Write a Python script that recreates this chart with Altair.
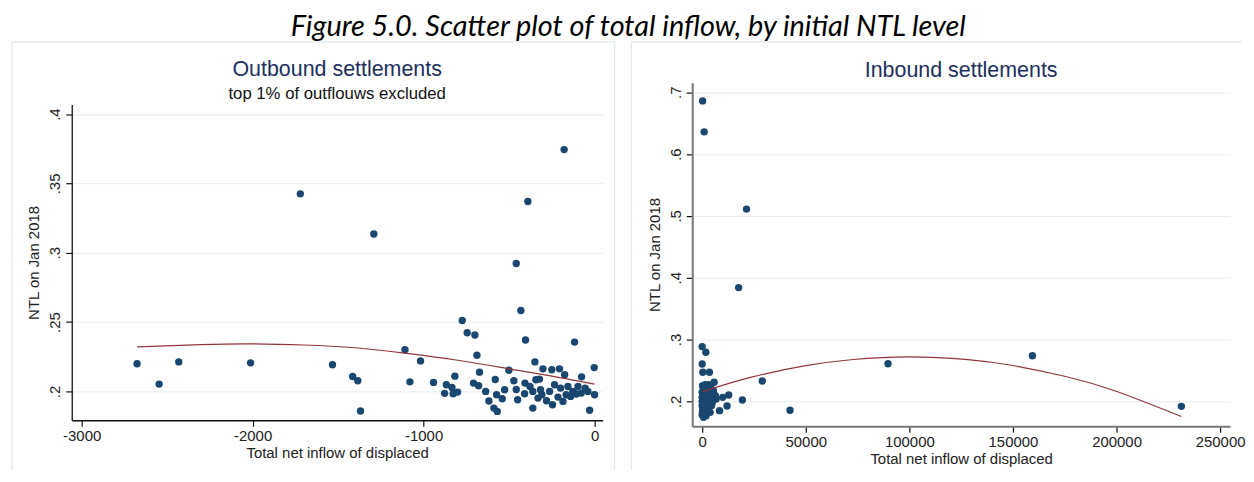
import altair as alt
import pandas as pd

# ---------------- data ----------------
out_x = [-2676, -2547, -2432, -2012, -1721, -1533, -1415, -1385, -1369, -1291,
         -1109, -1080, -1018, -942, -877, -867, -834, -827, -817, -801,
         -774, -745, -700, -688, -708, -678, -673, -637, -618, -589,
         -581, -573, -569, -540, -526, -501, -472, -458, -458, -450,
         -431, -409, -407, -404, -390, -378, -361, -361, -349, -343,
         -331, -322, -316, -308, -302, -281, -263, -250, -246, -234,
         -214, -205, -199, -185, -178, -175, -166, -156, -140, -127,
         -117, -107, -97, -78, -76, -55, -39, -29, -2, 0]
out_y = [0.2200, 0.2053, 0.2213, 0.2206, 0.3425, 0.2192, 0.2108, 0.2077, 0.1859, 0.3135,
         0.2301, 0.2069, 0.2220, 0.2065, 0.1986, 0.2048, 0.2029, 0.1983, 0.2110, 0.1995,
         0.2512, 0.2423, 0.2407, 0.2261, 0.2060, 0.2041, 0.2139, 0.2000, 0.1931, 0.1880,
         0.2086, 0.1976, 0.1856, 0.1947, 0.2012, 0.2153, 0.2077, 0.2923, 0.2014, 0.1940,
         0.2584, 0.1983, 0.2060, 0.2371, 0.3370, 0.2036, 0.1880, 0.2000, 0.2213, 0.2084,
         0.1952, 0.2089, 0.2012, 0.1976, 0.2163, 0.1933, 0.2000, 0.2156, 0.1904, 0.2048,
         0.1959, 0.2163, 0.2024, 0.1928, 0.3744, 0.2120, 0.1976, 0.2036, 0.1964, 0.2000,
         0.2356, 0.1981, 0.2036, 0.1988, 0.2105, 0.2024, 0.2000, 0.1864, 0.2172, 0.1976]

# quadratic fit line of the outbound panel
out_fit_x = [-2676, -2300, -2000, -1700, -1400, -1100, -800, -500, -250, 0]
out_fit_y = [0.2321, 0.2338, 0.2343, 0.2335, 0.2315, 0.2275, 0.2225, 0.2163, 0.2110, 0.2053]

in_x = [200, 950, 21400, 17600, 89700, 159400, 231300, 42400, 19400, 29000,
        8400, 12000, 12800, 9900,
        0, 1760, 0, 320, 3500, 5760,
        160, 1440, 3040, 640, 2240, 4160, 5440, 0, 1440, 3520,
        4800, 6400, 0, 960, 2560, 4160, 5760, 0, 1600, 3200,
        4800, 6720, 0, 1280, 2880, 4480, 160, 1440, 3040, 0,
        640, 1920, 3840]
in_y = [0.686, 0.636, 0.511, 0.384, 0.2608, 0.2737, 0.1919, 0.1855, 0.2022, 0.2328,
        0.1849, 0.1925, 0.2102, 0.2065,
        0.2886, 0.2795, 0.2605, 0.2470, 0.2470, 0.2308,
        0.2254, 0.2270, 0.2270, 0.2200, 0.2200, 0.2227, 0.2173, 0.2146, 0.2130, 0.2146,
        0.2119, 0.2092, 0.2065, 0.2054, 0.2065, 0.2038, 0.2038, 0.2000, 0.1984, 0.2000,
        0.1968, 0.2038, 0.1930, 0.1903, 0.1914, 0.1930, 0.1849, 0.1822, 0.1860, 0.1784,
        0.1741, 0.1768, 0.1822]

# quadratic fit line of the inbound panel
in_fit_x = [0, 23300, 50000, 72900, 100000, 128200, 150000, 176000, 199800, 231300]
in_fit_y = [0.2155, 0.2387, 0.2577, 0.2677, 0.2720, 0.2675, 0.2580, 0.2398, 0.2163, 0.1755]

out_xticks = [-3000, -2000, -1000, 0]
out_yticks = [0.2, 0.25, 0.3, 0.35, 0.4]
in_xticks = [0, 50000, 100000, 150000, 200000, 250000]
in_yticks = [0.2, 0.3, 0.4, 0.5, 0.6, 0.7]

# ---------------- styles ----------------
FONT = "Liberation Sans, Arial, sans-serif"
NAVY = "#1a476f"
MAROON = "#90353b"
GRID = "#e6eef1"
FRAME = "#e0e9ec"
TITLE_COL = "#1c2f5e"
NO_STROKE = alt.ViewBackground(stroke="transparent", strokeWidth=0)


def panel(xs, ys, fx, fy, xdom, ydom, xticks, yticks, w, h, title, axis_col, axis_w):
    df = pd.DataFrame({"x": xs, "y": ys})
    fit_df = pd.DataFrame({"x": fx, "y": fy})
    xscale = alt.Scale(domain=xdom, nice=False, zero=False)
    yscale = alt.Scale(domain=ydom, nice=False, zero=False)
    common = dict(labelFont=FONT, labelFontSize=15, labelColor="#222",
                  titleFont=FONT, titleFontSize=15, titleFontWeight="normal",
                  titleColor="#222", tickSize=6, tickColor="#111", tickWidth=1.2,
                  domainColor=axis_col, domainWidth=axis_w, labelFlush=False)
    xenc = alt.X(
        "x:Q", scale=xscale,
        axis=alt.Axis(values=xticks, labelExpr="toString(datum.value)",
                      title="Total net inflow of displaced", grid=False,
                      labelPadding=2, titlePadding=2, **common),
    )
    yenc = alt.Y(
        "y:Q", scale=yscale,
        axis=alt.Axis(values=yticks, format=".2~f",
                      labelExpr="replace(datum.label, '0.', '.')",
                      labelAngle=270, labelAlign="center", labelBaseline="bottom",
                      title="NTL on Jan 2018", grid=True, gridColor=GRID,
                      labelPadding=3, titlePadding=6, **common),
    )
    pts = alt.Chart(df).mark_circle(size=55, color=NAVY, opacity=1).encode(x=xenc, y=yenc)
    fit = (alt.Chart(fit_df)
           .mark_line(color=MAROON, strokeWidth=1.2, interpolate="natural")
           .encode(x=alt.X("x:Q", scale=xscale), y=alt.Y("y:Q", scale=yscale)))
    return alt.layer(pts, fit).properties(width=w, height=h, title=title, view=NO_STROKE)


def frame(w, h, fx0, fx1, fy0, fy1, right_side):
    """faint panel border (decoration), drawn in a spacer view above the plot"""
    one = pd.DataFrame({"a": [0]})
    layers = [
        alt.Chart(one).mark_rule(color=FRAME, strokeWidth=1.2).encode(
            x=alt.value(fx0), x2=alt.value(fx1), y=alt.value(fy0)),
        alt.Chart(one).mark_rule(color=FRAME, strokeWidth=1.2).encode(
            x=alt.value(fx0), y=alt.value(fy0), y2=alt.value(fy1)),
    ]
    if right_side:
        layers.append(alt.Chart(one).mark_rule(color=FRAME, strokeWidth=1.2).encode(
            x=alt.value(fx1), y=alt.value(fy0), y2=alt.value(fy1)))
    return alt.layer(*layers).properties(width=w, height=h, view=NO_STROKE)


left_title = alt.TitleParams(
    text="Outbound settlements", subtitle="top 1% of outflouws excluded",
    font=FONT, fontSize=21.5, fontWeight="normal", color=TITLE_COL,
    subtitleFont=FONT, subtitleFontSize=16.8, subtitleColor="#111",
    subtitlePadding=6, anchor="middle", frame="group", offset=1.5)
right_title = alt.TitleParams(
    text="Inbound settlements", font=FONT, fontSize=21.5, fontWeight="normal",
    color=TITLE_COL, anchor="middle", frame="group", offset=1)

left_plot = panel(out_x, out_y, out_fit_x, out_fit_y, [-3058, 47], [0.1792, 0.4069],
                  out_xticks, out_yticks, 533, 317, left_title, "#111", 1.3)
right_plot = panel(in_x, in_y, in_fit_x, in_fit_y, [-4800, 254800], [0.1597, 0.7156],
                   in_xticks, in_yticks, 540, 345, right_title, "#777", 2)

left_col = alt.vconcat(frame(533, 23, -60, 545, -40, 390, True), left_plot,
                       spacing=0, bounds="flush")
right_col = alt.vconcat(frame(540, 1, -61, 552, -40, 390, False), right_plot,
                        spacing=0, bounds="flush")

chart = (
    alt.hconcat(left_col, right_col, spacing=15)
    .properties(
        title=alt.TitleParams(
            text="Figure 5.0. Scatter plot of total inflow, by initial NTL level",
            font="Lato", fontStyle="italic", fontWeight="normal", fontSize=29,
            color="#000", anchor="middle", offset=-1),
        padding={"left": 3, "top": 4, "right": 0, "bottom": 0},
    )
    .configure_view(stroke="transparent", strokeWidth=0)
    .configure(background="white")
)

chart.save("out.html", embed_options={"renderer": "svg", "actions": False})
